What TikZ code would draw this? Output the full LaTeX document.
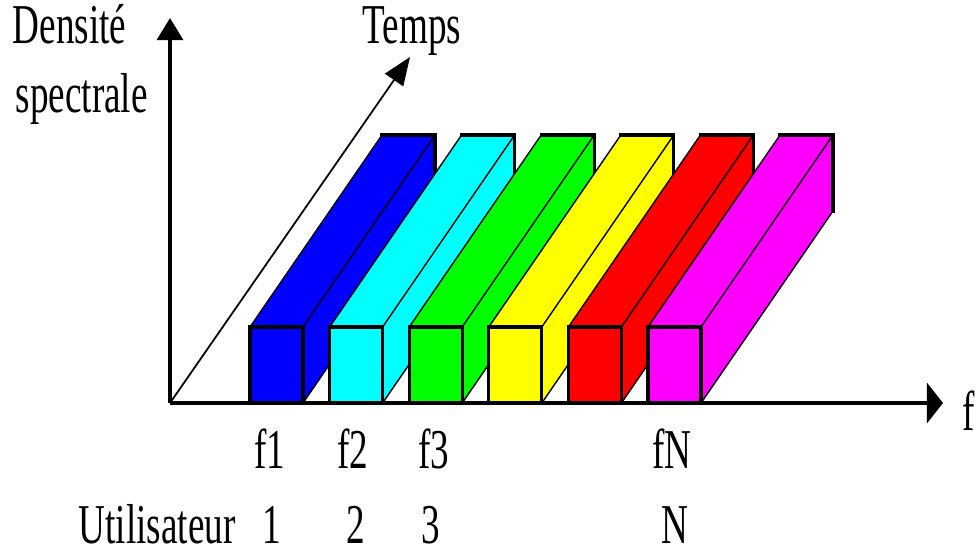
\documentclass[tikz,border=0pt]{standalone}
\usepackage{fontspec}
\setmainfont{Liberation Serif}
\newfontfamily\lblfont[FakeStretch=0.66]{Liberation Serif}
\usetikzlibrary{arrows.meta}
\definecolor{bleu}{RGB}{0,0,255}
\definecolor{cyanv}{RGB}{0,255,255}
\definecolor{vert}{RGB}{0,255,0}
\definecolor{jaune}{RGB}{255,255,0}
\definecolor{rouge}{RGB}{255,0,0}
\definecolor{magentav}{RGB}{255,0,255}

\begin{document}
\begin{tikzpicture}[x=0.01cm, y=-0.01cm,
    axe/.style={line width=0.9pt},
    lbl/.style={font=\lblfont\fontsize{16}{19}\selectfont, inner sep=0pt},
    arete/.style={line width=0.4pt},
    fond/.style={line width=0.9pt, line cap=rect},
    face/.style={draw, line width=0.9pt}]
    \useasboundingbox (0,0) rectangle (975,550);

    % Canaux : un bloc par utilisateur
    \foreach \c [count=\i from 0] in {bleu,cyanv,vert,jaune,rouge,magentav}{
        \pgfmathsetmacro\xa{250+79.6*\i}
        \fill[\c] (\xa,327) -- ++(132,-192) -- ++(53,0) -- ++(0,76)
            -- (\xa+53,403) -- (\xa,403) -- cycle;
        \draw[arete] (\xa,327) -- ++(132,-192);
        \draw[arete] (\xa+53,327) -- ++(132,-192);
        \draw[arete] (\xa+53,403) -- ++(132,-192);
        \draw[fond] (\xa+132,135) -- ++(53,0) -- ++(0,76);
        \filldraw[face, fill=\c] (\xa,327) rectangle ++(53,76);
    }

    % Axes
    \coordinate (O) at (170,403);
    \coordinate (dsp) at (170,18);
    \coordinate (fmax) at (943,403);
    \coordinate (tmax) at (410,57);
    \draw[axe, -{Triangle[length=0.22cm, width=0.26cm]}] (O) -- (dsp);
    \draw[axe, -{Triangle[length=0.16cm, width=0.40cm]}] (O) -- (fmax);
    \draw[line width=0.5pt, -{Triangle[length=0.28cm, width=0.22cm]}] (O) -- (tmax);

    % Noms des axes
    \node[lbl, anchor=base west] (densite) at (12,43) {Densité};
    \node[lbl, anchor=base west] (spectrale) at (15,112) {spectrale};
    \node[lbl, anchor=base west] (temps) at (362,43) {Temps};
    \node[lbl, anchor=base west] (f) at (962,430) {f};

    % Fréquences et utilisateurs
    \node[lbl, anchor=base] (f1) at (270,468) {f1};
    \node[lbl, anchor=base] (f2) at (353,468) {f2};
    \node[lbl, anchor=base] (f3) at (434,468) {f3};
    \node[lbl, anchor=base] (fN) at (672,468) {fN};
    \node[lbl, anchor=base west] (util) at (78,543) {Utilisateur};
    \node[lbl, anchor=base] (u1) at (272,543) {1};
    \node[lbl, anchor=base] (u2) at (356,543) {2};
    \node[lbl, anchor=base] (u3) at (431,543) {3};
    \node[lbl, anchor=base] (uN) at (675,543) {N};

\end{tikzpicture}
\end{document}
